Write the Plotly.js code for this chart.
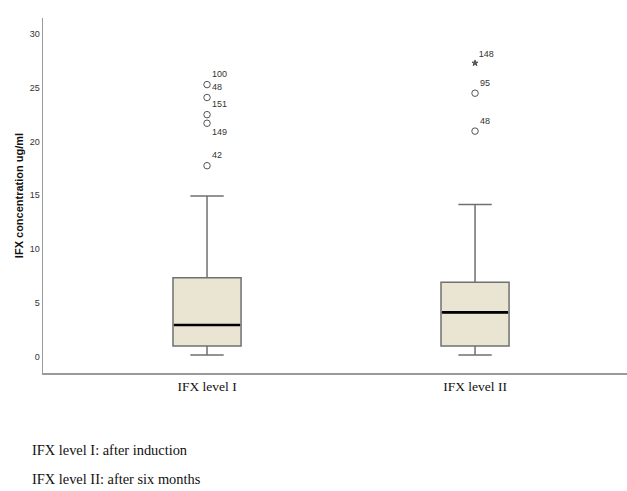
<!DOCTYPE html>
<html>
<head>
<meta charset="utf-8">
<script src="https://cdn.plot.ly/plotly-3.0.1.min.js"></script>
<style>html,body{margin:0;padding:0;background:#fff;}#chart{width:627px;height:491px;}</style>
</head>
<body>
<div id="chart"></div>
<script>
// ---- data ----
const categories = ["IFX level I", "IFX level II"];
const lowerWhisker = [0.13, 0.13];
const q1 = [0.96, 0.96];
const median = [2.92, 4.09];
const q3 = [7.31, 6.91];
const upperWhisker = [14.93, 14.13];

// outliers (circles) per group, with SPSS case labels
const outliersI = [25.3, 24.1, 22.5, 21.7, 17.75];
const outlierLabelsI = ["100", "48", "151", "149", "42"];
const outliersII = [24.5, 20.97];
const outlierLabelsII = ["95", "48"];
// extreme value (star)
const extremesII = [27.3];
const extremeLabelsII = ["148"];

const footnotes = ["IFX level I: after induction", "IFX level II: after six months"];
const yTitle = "IFX concentration ug/ml";

// ---- build traces ----
const xs = categories.map((c, i) => i);
const boxW = 0.254;

const boxTrace = {
  type: "box",
  x: xs,
  q1: q1, median: median, q3: q3,
  lowerfence: lowerWhisker, upperfence: upperWhisker,
  width: boxW,
  whiskerwidth: 0.49,
  fillcolor: "#EAE4D2",
  line: {color: "#707070", width: 1.5},
  boxpoints: false,
  hoverinfo: "skip",
  showlegend: false
};

// median line drawn in black, thicker
const medX = [], medY = [];
xs.forEach((x, i) => {
  medX.push(x - boxW / 2 + 0.004, x + boxW / 2 - 0.004, null);
  medY.push(median[i], median[i], null);
});
const medianTrace = {
  type: "scatter", mode: "lines", x: medX, y: medY,
  line: {color: "#000", width: 2.6}, showlegend: false, hoverinfo: "skip"
};

const labelFont = {family: "Liberation Sans, Arial, sans-serif", size: 9, color: "#333"};

function outlierTrace(xi, ys, labels, symbol, size, positions) {
  return {
    type: "scatter", mode: "markers+text",
    x: ys.map(() => xi), y: ys,
    text: labels,
    textposition: positions,
    textfont: labelFont,
    marker: {symbol: symbol, size: size, color: "#555", line: {width: 1, color: "#555"}},
    cliponaxis: false,
    showlegend: false, hoverinfo: "skip"
  };
}

const traces = [
  boxTrace,
  medianTrace,
  outlierTrace(0, outliersI, outlierLabelsI, "circle-open", 6.5,
    ["top right", "top right", "top right", "bottom right", "top right"]),
  outlierTrace(1, outliersII, outlierLabelsII, "circle-open", 6.5, ["top right", "top right"]),
  outlierTrace(1, extremesII, extremeLabelsII, "star", 4.5, ["top right"])
];

const layout = {
  width: 627, height: 491,
  margin: {l: 43, r: 0, t: 18, b: 118, pad: 0},
  paper_bgcolor: "#fff", plot_bgcolor: "#fff",
  showlegend: false,
  xaxis: {
    range: [-0.612, 1.567],
    tickvals: xs, ticktext: categories,
    tickfont: {family: "Liberation Serif, Times New Roman, serif", size: 13.5, color: "#111"},
    showline: true, linecolor: "#9a9a9a", linewidth: 1.5,
    showgrid: false, zeroline: false, ticks: "", fixedrange: true
  },
  yaxis: {
    range: [-1.55, 31.5],
    tickvals: [0, 5, 10, 15, 20, 25, 30],
    tickfont: {family: "Liberation Sans, Arial, sans-serif", size: 9, color: "#333"},
    showline: true, linecolor: "#9a9a9a", linewidth: 1.5,
    showgrid: false, zeroline: false, ticks: "",
    title: {text: yTitle, font: {family: "Liberation Sans, Arial, sans-serif", size: 11, color: "#111", weight: "bold"}, standoff: 4}
  },
  annotations: footnotes.map((t, i) => ({
    text: t, xref: "paper", yref: "paper",
    x: -0.022, y: i === 0 ? -0.217 : -0.2986,
    xanchor: "left", yanchor: "middle", showarrow: false,
    font: {family: "Liberation Serif, Times New Roman, serif", size: 14.4, color: "#111"}
  }))
};

Plotly.newPlot("chart", traces, layout, {displayModeBar: false, staticPlot: true});
</script>
</body>
</html>
